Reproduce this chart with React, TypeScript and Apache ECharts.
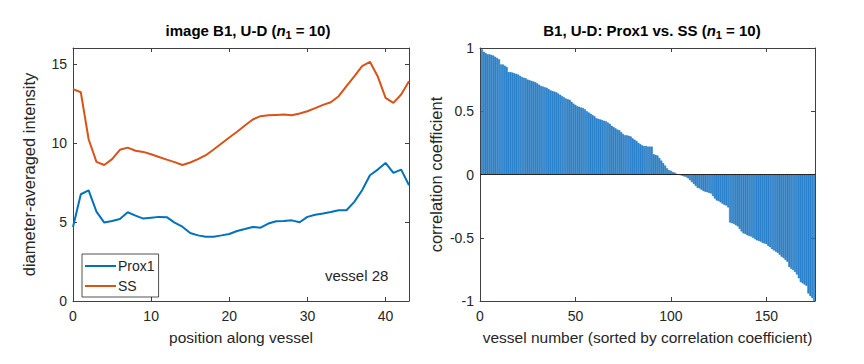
import React, { useEffect, useRef } from "react";
import * as echarts from "echarts";

const prox1 = [4.68, 6.75, 7.0, 5.65, 4.96, 5.06, 5.19, 5.61, 5.4, 5.21, 5.27, 5.32, 5.3, 4.96, 4.7, 4.3, 4.15, 4.07, 4.07, 4.15, 4.24, 4.43, 4.55, 4.68, 4.64, 4.9, 5.04, 5.06, 5.1, 4.98, 5.32, 5.46, 5.53, 5.63, 5.74, 5.74, 6.27, 7.0, 7.95, 8.31, 8.73, 8.1, 8.31, 7.32];
const ss = [13.4, 13.2, 10.23, 8.8, 8.6, 8.97, 9.56, 9.7, 9.5, 9.43, 9.28, 9.11, 8.94, 8.78, 8.6, 8.76, 8.97, 9.22, 9.58, 9.96, 10.34, 10.7, 11.1, 11.48, 11.69, 11.75, 11.77, 11.79, 11.75, 11.86, 12.0, 12.2, 12.4, 12.57, 12.95, 13.59, 14.2, 14.85, 15.13, 14.2, 12.85, 12.53, 13.06, 13.9];

const corr = [
  0.99, 0.97, 0.96, 0.95, 0.95, 0.945, 0.94, 0.93, 0.92, 0.91,
  0.87, 0.87, 0.86, 0.85, 0.81, 0.81, 0.805, 0.8, 0.795, 0.79,
  0.78, 0.77, 0.765, 0.76, 0.75, 0.745, 0.74, 0.735, 0.73, 0.72,
  0.71, 0.7, 0.695, 0.69, 0.685, 0.675, 0.665, 0.66, 0.655, 0.65,
  0.64, 0.63, 0.62, 0.61, 0.6, 0.595, 0.59, 0.575, 0.56, 0.55,
  0.54, 0.535, 0.53, 0.525, 0.515, 0.5, 0.49, 0.48, 0.47, 0.46,
  0.445, 0.44, 0.435, 0.43, 0.425, 0.42, 0.41, 0.4, 0.385, 0.375,
  0.365, 0.355, 0.35, 0.335, 0.32, 0.31, 0.31, 0.305, 0.3, 0.285,
  0.275, 0.265, 0.25, 0.24, 0.23, 0.225, 0.225, 0.22, 0.22, 0.22,
  0.16, 0.155, 0.15, 0.13, 0.11, 0.09, 0.07, 0.05, 0.035, 0.03,
  0.02, 0.015, 0.005, 0.0, -0.005, -0.01, -0.015, -0.02, -0.03, -0.045,
  -0.06, -0.075, -0.09, -0.105, -0.11, -0.12, -0.13, -0.135, -0.14, -0.145,
  -0.15, -0.17, -0.19, -0.205, -0.21, -0.22, -0.23, -0.24, -0.245, -0.26,
  -0.38, -0.385, -0.39, -0.4, -0.41, -0.43, -0.45, -0.465, -0.47, -0.48,
  -0.485, -0.49, -0.5, -0.51, -0.52, -0.525, -0.53, -0.54, -0.545, -0.55,
  -0.565, -0.575, -0.59, -0.6, -0.61, -0.62, -0.635, -0.65, -0.66, -0.675,
  -0.69, -0.73, -0.745, -0.755, -0.77, -0.79, -0.82, -0.85, -0.86, -0.87,
  -0.88, -0.94, -0.96, -0.975, -1.0,
];

const leftXTicks = [0, 10, 20, 30, 40];
const leftYTicks = [0, 5, 10, 15];
const rightXTicks = [0, 50, 100, 150];

const FONT = "Liberation Sans, Arial, Helvetica, sans-serif";
const AX = "#404040";
const TXT = "#262626";

export default function App() {
  const ref = useRef<HTMLDivElement>(null);
  useEffect(() => {
    if (!ref.current) return;
    const chart = echarts.init(ref.current, null, { renderer: "svg" });
    const G0 = { left: 73, top: 48, width: 336, height: 253 };
    const G1 = { left: 480, top: 48, width: 335, height: 253 };
    const tickFmt = (ticks: number[]) => (v: number) => (ticks.includes(v) ? String(v) : "");
    const mainAxisBase = {
      axisLine: { show: true, onZero: false, lineStyle: { color: AX, width: 1 } },
      axisTick: { show: true, inside: true, length: 4, lineStyle: { color: AX } },
      splitLine: { show: false },
    };
    const ghost = (extra: any) => ({
      ...extra,
      axisLine: { show: true, onZero: false, lineStyle: { color: AX, width: 1 } },
      axisTick: { show: true, inside: true, length: 4, lineStyle: { color: AX } },
      axisLabel: { show: false },
      splitLine: { show: false },
    });
    const labelStyle = { color: TXT, fontSize: 14, fontFamily: FONT };
    const xNameStyle = { color: TXT, fontSize: 15.5, fontFamily: FONT };
    const yNameStyle = { color: TXT, fontSize: 16.5, fontFamily: FONT };
    const titleRich = {
      b: { fontSize: 15, fontWeight: "bold", fontFamily: FONT, color: "#000" },
      i: { fontSize: 15, fontWeight: "bold", fontStyle: "italic", fontFamily: FONT, color: "#000" },
      s: { fontSize: 11, fontWeight: "bold", fontFamily: FONT, color: "#000", padding: [9, 0, 0, 0] },
    };
    chart.setOption({
      animation: false,
      backgroundColor: "#fff",
      title: [
        {
          text: "{b|image B1, U-D (}{i|n}{s|1}{b| = 10)}",
          left: 243,
          top: 15,
          textAlign: "center",
          textStyle: { rich: titleRich },
        },
        {
          text: "{b|B1, U-D: Prox1 vs. SS (}{i|n}{s|1}{b| = 10)}",
          left: 647,
          top: 15,
          textAlign: "center",
          textStyle: { rich: titleRich },
        },
      ],
      grid: [
        { ...G0, show: false },
        { ...G1, show: false },
      ],
      legend: {
        left: 82,
        top: 254,
        orient: "vertical",
        data: ["Prox1", "SS"],
        icon: "rect",
        itemWidth: 31,
        itemHeight: 2,
        itemGap: 6,
        padding: [5, 4, 4, 3],
        borderColor: "#262626",
        borderWidth: 0.8,
        textStyle: { color: TXT, fontSize: 14, fontFamily: FONT, padding: [0, 0, 0, -3] },
      },
      xAxis: [
        {
          ...mainAxisBase,
          type: "value",
          gridIndex: 0,
          min: 0,
          max: 43,
          interval: 10,
          axisLabel: { ...labelStyle, margin: 8, formatter: tickFmt(leftXTicks) },
          name: "position along vessel",
          nameLocation: "middle",
          nameGap: 28,
          nameTextStyle: xNameStyle,
        },
        ghost({ type: "value", gridIndex: 0, min: 0, max: 43, interval: 10, position: "top" }),
        {
          ...mainAxisBase,
          type: "value",
          gridIndex: 1,
          min: 0,
          max: 175.5,
          interval: 50,
          axisLabel: { ...labelStyle, margin: 8, formatter: tickFmt(rightXTicks) },
          name: "vessel number (sorted by correlation coefficient)",
          nameLocation: "middle",
          nameGap: 28,
          nameTextStyle: xNameStyle,
        },
        ghost({ type: "value", gridIndex: 1, min: 0, max: 175.5, interval: 50, position: "top" }),
      ],
      yAxis: [
        {
          ...mainAxisBase,
          type: "value",
          gridIndex: 0,
          min: 0,
          max: 16,
          interval: 5,
          axisLabel: { ...labelStyle, margin: 6, formatter: tickFmt(leftYTicks) },
          name: "diameter-averaged intensity",
          nameLocation: "middle",
          nameGap: 36,
          nameTextStyle: yNameStyle,
        },
        ghost({ type: "value", gridIndex: 0, min: 0, max: 16, interval: 5, position: "right" }),
        {
          ...mainAxisBase,
          type: "value",
          gridIndex: 1,
          min: -1,
          max: 1,
          interval: 0.5,
          axisLabel: { ...labelStyle, margin: 6 },
          name: "correlation coefficient",
          nameLocation: "middle",
          nameGap: 36,
          nameTextStyle: yNameStyle,
        },
        ghost({ type: "value", gridIndex: 1, min: -1, max: 1, interval: 0.5, position: "right" }),
      ],
      graphic: [
        {
          type: "text",
          left: 325,
          top: 268,
          style: { text: "vessel 28", fill: TXT, fontSize: 15, fontFamily: FONT },
        },
      ],
      series: [
        {
          name: "Prox1",
          type: "line",
          xAxisIndex: 0,
          yAxisIndex: 0,
          data: prox1.map((v, i) => [i, v]),
          symbol: "none",
          lineStyle: { color: "#0072BD", width: 2 },
          itemStyle: { color: "#0072BD" },
        },
        {
          name: "SS",
          type: "line",
          xAxisIndex: 0,
          yAxisIndex: 0,
          data: ss.map((v, i) => [i, v]),
          symbol: "none",
          lineStyle: { color: "#D95319", width: 2 },
          itemStyle: { color: "#D95319" },
        },
        {
          name: "corr",
          type: "bar",
          xAxisIndex: 2,
          yAxisIndex: 2,
          data: corr.map((v, i) => [i + 1, v]),
          barWidth: 1.9,
          itemStyle: { color: "#3389d2", borderColor: "#0a64b0", borderWidth: 0.4 },
          markLine: {
            silent: true,
            symbol: "none",
            label: { show: false },
            lineStyle: { color: "#262626", width: 1, type: "solid" },
            data: [{ yAxis: 0 }],
          },
        },
      ],
    });
    return () => chart.dispose();
  }, []);
  return (
    <div
      ref={ref}
      style={{ position: "fixed", left: 0, top: 0, width: 864, height: 364, background: "#fff" }}
    />
  );
}
